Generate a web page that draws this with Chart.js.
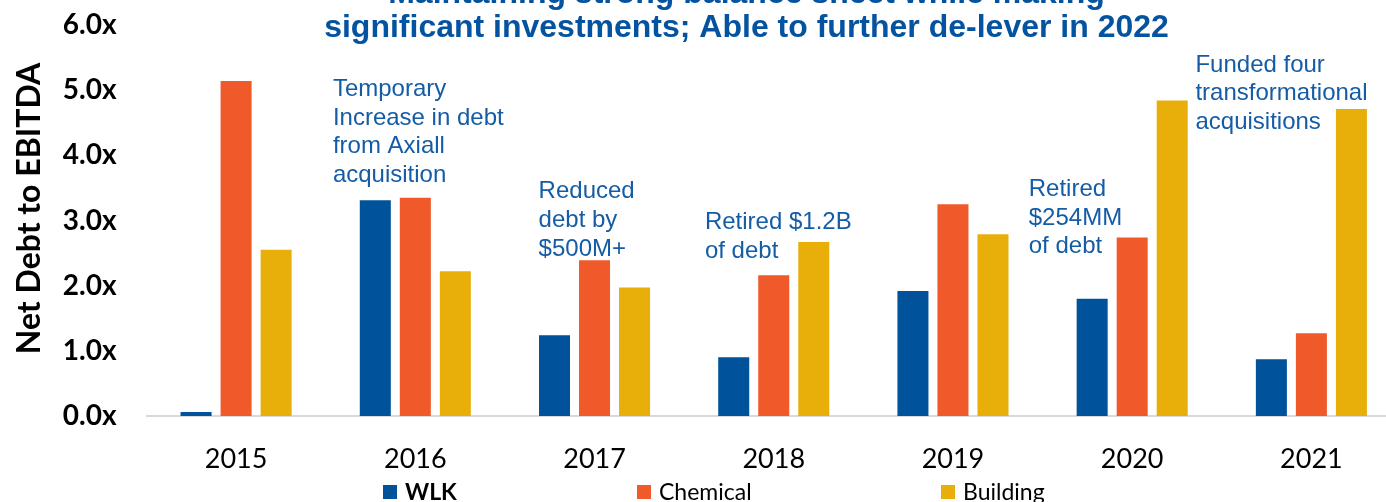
<!DOCTYPE html>
<html>
<head>
<meta charset="utf-8">
<script src="https://cdn.jsdelivr.net/npm/chart.js@4.4.1/dist/chart.umd.min.js"></script>
<style>
  html, body { margin: 0; padding: 0; background: #fff; overflow: hidden; }
  #wrap { width: 1402px; height: 502px; }
</style>
</head>
<body>
<div id="wrap"><canvas id="chart" width="1402" height="502"></canvas></div>
<script>
// Data
const years = ['2015', '2016', '2017', '2018', '2019', '2020', '2021'];
const wlk = [0.06, 3.31, 1.24, 0.90, 1.92, 1.80, 0.87];
const chemical = [5.14, 3.35, 2.39, 2.16, 3.25, 2.74, 1.27];
const building = [2.55, 2.22, 1.97, 2.67, 2.79, 4.84, 4.71];
const yTickLabels = ['0.0x', '1.0x', '2.0x', '3.0x', '4.0x', '5.0x', '6.0x'];
const seriesNames = ['WLK', 'Chemical', 'Building'];

const titleLines = [
  'Maintaining strong balance sheet while making',
  'significant investments; Able to further de-lever in 2022'
];
const axisTitle = 'Net Debt to EBITDA';
const notes = [
  ['Temporary', 'Increase in debt', 'from Axiall', 'acquisition'],
  ['Reduced', 'debt by', '$500M+'],
  ['Retired $1.2B', 'of debt'],
  ['Retired', '$254MM', 'of debt'],
  ['Funded four', 'transformational', 'acquisitions']
];

const colors = ['#00529B', '#F0592A', '#E8AF0B'];
const blueText = '#0453A0';

// where each note sits: category, offset as share of category width, baseline value
const notePlace = [
  { cat: 1, dx: -0.46, v: 4.91 },
  { cat: 2, dx: -0.312, v: 3.34 },
  { cat: 3, dx: -0.384, v: 2.865 },
  { cat: 5, dx: -0.577, v: 3.376 },
  { cat: 6, dx: -0.647, v: 5.283 }
];

const decorations = {
  id: 'decorations',
  afterDraw(chart) {
    const ctx = chart.ctx;
    const x = chart.scales.x;
    const y = chart.scales.y;
    const catW = x.getPixelForValue(1) - x.getPixelForValue(0);
    ctx.save();

    // title (top line cut by the frame)
    ctx.fillStyle = blueText;
    ctx.font = 'bold 32px "Liberation Sans", Arial, sans-serif';
    ctx.textAlign = 'center';
    ctx.textBaseline = 'alphabetic';
    ctx.fillText(titleLines[0], 746.5, 3);
    ctx.fillText(titleLines[1], 746.5, 37);

    // notes
    ctx.fillStyle = '#155CA6';
    ctx.font = '24px "Liberation Sans", Arial, sans-serif';
    ctx.textAlign = 'left';
    notes.forEach((lines, i) => {
      const p = notePlace[i];
      const px = x.getPixelForValue(p.cat) + p.dx * catW;
      const py = y.getPixelForValue(p.v);
      lines.forEach((t, j) => ctx.fillText(t, px, py + j * 28.7));
    });

    // y axis title
    ctx.fillStyle = '#000';
    ctx.font = 'bold 32px Lato, sans-serif';
    ctx.textAlign = 'center';
    ctx.textBaseline = 'middle';
    ctx.translate(30, 208.5);
    ctx.rotate(-Math.PI / 2);
    ctx.fillText(axisTitle, 0, 0);
    ctx.setTransform(1, 0, 0, 1, 0, 0);

    // legend
    const legendX = [383, 637, 941];
    ctx.textAlign = 'left';
    ctx.textBaseline = 'alphabetic';
    chart.data.datasets.forEach((ds, i) => {
      ctx.fillStyle = ds.backgroundColor;
      ctx.fillRect(legendX[i], 485, 14, 14);
      ctx.fillStyle = '#000';
      ctx.font = (i === 0 ? 'bold ' : '') + '23px Lato, sans-serif';
      ctx.fillText(ds.label, legendX[i] + 22, 500);
    });
    ctx.restore();
  }
};

new Chart(document.getElementById('chart'), {
  type: 'bar',
  data: {
    labels: years,
    datasets: [
      { label: seriesNames[0], data: wlk, backgroundColor: colors[0] },
      { label: seriesNames[1], data: chemical, backgroundColor: colors[1] },
      { label: seriesNames[2], data: building, backgroundColor: colors[2] }
    ]
  },
  options: {
    responsive: false,
    animation: false,
    devicePixelRatio: 1,
    layout: { padding: { top: 25, right: 1, left: 0, bottom: 0 } },
    datasets: { bar: { categoryPercentage: 0.67, barPercentage: 0.775 } },
    plugins: { legend: { display: false }, title: { display: false }, tooltip: { enabled: false } },
    scales: {
      x: {
        grid: { display: false, drawTicks: false },
        border: { display: true, color: '#D9D9D9', width: 2 },
        ticks: { color: '#000', padding: 27, font: { family: 'Lato', size: 27 } },
        afterFit: (s) => { s.height = 86; s.paddingLeft = 0; s.paddingRight = 0; }
      },
      y: {
        min: 0, max: 6,
        grid: { display: false, drawTicks: false },
        border: { display: false },
        ticks: {
          stepSize: 1, color: '#000', padding: 30,
          font: { family: 'Lato', size: 28, weight: 'bold' },
          callback: (v, i) => yTickLabels[i]
        },
        afterFit: (s) => { s.width = 146.5; s.paddingTop = 0; s.paddingBottom = 0; }
      }
    }
  },
  plugins: [decorations]
});
</script>
</body>
</html>
